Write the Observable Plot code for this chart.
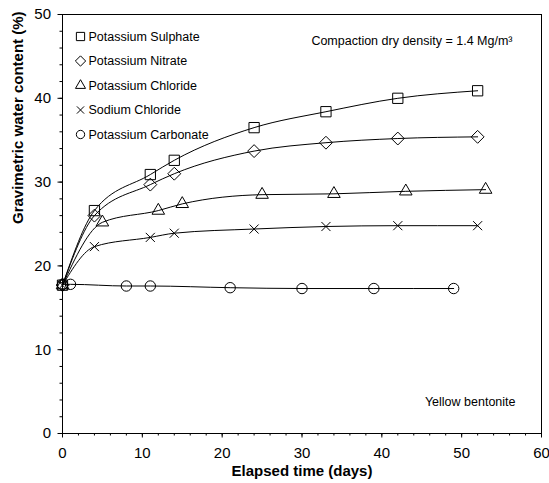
<!DOCTYPE html>
<html><head><meta charset="utf-8">
<script src="https://cdn.jsdelivr.net/npm/d3@7"></script>
<script src="https://cdn.jsdelivr.net/npm/@observablehq/plot@0.6"></script>
<style>
body{margin:0;background:#fff}
#chart svg{font-family:"Liberation Sans",Arial,Helvetica,sans-serif;background:#fff}
</style>
</head><body><div id="chart"></div>
<script>
// Series names (legend order) and symbols
const seriesNames = ["Potassium Sulphate","Potassium Nitrate","Potassium Chloride","Sodium Chloride","Potassium Carbonate"];
const seriesSymbols = ["square","diamond2","triangle2","times","circle"];

// Elapsed time (days) and gravimetric water content (%)
const sulphateDays = [0,4,11,14,24,33,42,52];
const sulphateWC   = [17.7,26.6,30.9,32.6,36.5,38.4,40.0,40.9];
const nitrateDays  = [0,4,11,14,24,33,42,52];
const nitrateWC    = [17.7,26.0,29.7,31.0,33.7,34.7,35.2,35.4];
const kclDays      = [0,5,12,15,25,34,43,53];
const kclWC        = [17.7,25.2,26.6,27.4,28.5,28.6,28.9,29.1];
const naclDays     = [0,4,11,14,24,33,42,52];
const naclWC       = [17.7,22.3,23.4,23.9,24.4,24.7,24.8,24.8];
const carbDays     = [0,1,8,11,21,30,39,49];
const carbWC       = [17.8,17.8,17.6,17.6,17.4,17.3,17.3,17.3];

const xTicks = [0,10,20,30,40,50,60];
const yTicks = [0,10,20,30,40,50];
const xMinor = d3.range(0,61,2);
const yMinor = d3.range(0,51,2);

const xLabel = "Elapsed time (days)";
const yLabel = "Gravimetric water content (%)";
const noteTop = "Compaction dry density = 1.4 Mg/m³";
const noteBottom = "Yellow bentonite";

const allDays = [sulphateDays,nitrateDays,kclDays,naclDays,carbDays];
const allWC = [sulphateWC,nitrateWC,kclWC,naclWC,carbWC];
const data = [];
seriesNames.forEach((name,i)=>{
  allDays[i].forEach((d,j)=>data.push({series:name, symbol:seriesSymbols[i], day:d, wc:allWC[i][j]}));
});

const symR = s => s==="circle" ? 5.2 : s==="times" ? 4.2 : s==="triangle2" ? 6 : 5.8;

const legendMarks = seriesNames.flatMap((name,i)=>[
  Plot.dot([name], {frameAnchor:"top-left", dx:18, dy:22+24.5*i, symbol:seriesSymbols[i], r: symR(seriesSymbols[i])*0.8, stroke:"black", fill:"none", strokeWidth:1}),
  Plot.text([name], {frameAnchor:"top-left", dx:26, dy:22+24.5*i, lineAnchor:"middle", text:d=>d, textAnchor:"start", fontSize:12.5, fill:"black"})
]);

const pointMarks = seriesSymbols.map(s =>
  Plot.dot(data.filter(d=>d.symbol===s), {x:"day", y:"wc", symbol:s, r:symR(s), stroke:"black", fill:"none", strokeWidth:1})
);

const chart = Plot.plot({
  width:549, height:483,
  marginLeft:62, marginRight:8, marginTop:14, marginBottom:50,
  x:{domain:[0,60]},
  y:{domain:[0,50]},
  style:{fontSize:"15px", color:"black"},
  marks:[
    Plot.axisX(xMinor, {tickSize:2.5, text:null, label:null, stroke:"black"}),
    Plot.axisY(yMinor, {tickSize:2.5, text:null, label:null, stroke:"black"}),
    Plot.axisX(xTicks, {tickSize:4.5, tickPadding:9, label:null, fontSize:15, stroke:"black"}),
    Plot.axisY(yTicks, {tickSize:4.5, tickPadding:7, label:null, fontSize:15, stroke:"black"}),
    Plot.frame({stroke:"black", strokeWidth:1}),
    Plot.line(data, {x:"day", y:"wc", z:"series", curve:"monotone-x", stroke:"black", strokeWidth:1}),
    ...pointMarks,
    ...legendMarks,
    Plot.text([noteTop], {frameAnchor:"top-right", dx:-29, dy:26, lineAnchor:"middle", text:d=>d, textAnchor:"end", fontSize:12.5}),
    Plot.text([noteBottom], {frameAnchor:"bottom-right", dx:-26, dy:-32, lineAnchor:"middle", text:d=>d, textAnchor:"end", fontSize:12.5}),
    Plot.text([xLabel], {frameAnchor:"bottom", dy:38, lineAnchor:"middle", text:d=>d, fontWeight:"bold", fontSize:15}),
    Plot.text([yLabel], {frameAnchor:"left", dx:-44, rotate:-90, text:d=>d, fontWeight:"bold", fontSize:15})
  ]
});
document.getElementById("chart").appendChild(chart);
</script>
</body></html>
